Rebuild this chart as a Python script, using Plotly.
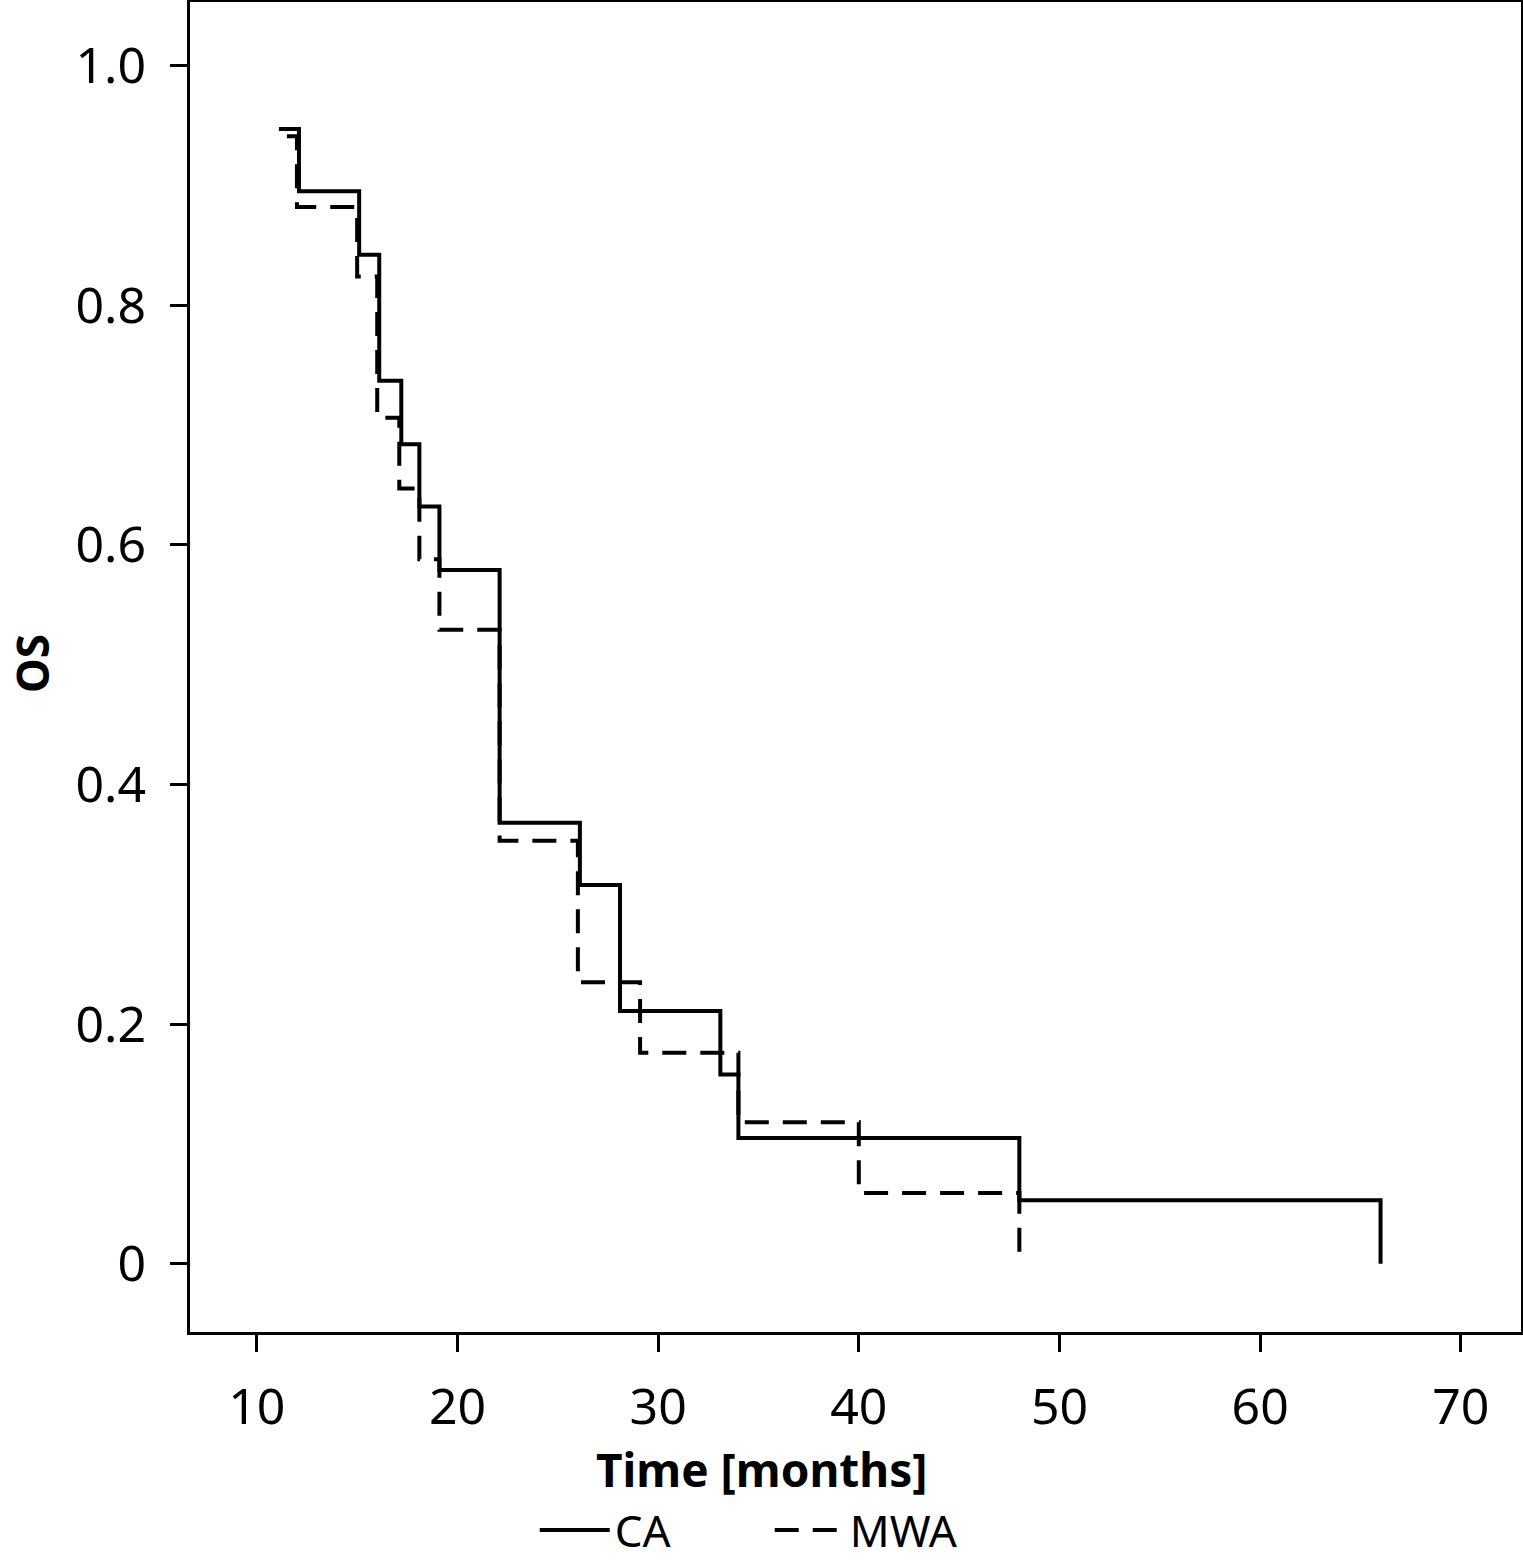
import plotly.graph_objects as go

# Data (Kaplan–Meier style step curves)
ca_time = [11.1, 12.1, 15.1, 16.1, 17.2, 18.1, 19.1, 22.1, 26.1, 28.1, 33.1, 34.0, 48.0, 66.0]
ca_os = [0.947, 0.895, 0.842, 0.737, 0.684, 0.632, 0.579, 0.368, 0.316, 0.211, 0.158, 0.105, 0.053, 0.0]

mwa_time = [11.5, 12.0, 15.0, 16.0, 17.1, 18.1, 19.1, 22.1, 26.0, 29.1, 34.0, 40.0, 48.0]
mwa_os = [0.941, 0.882, 0.824, 0.706, 0.647, 0.588, 0.529, 0.353, 0.235, 0.176, 0.118, 0.059, 0.0]

x_ticks = [10, 20, 30, 40, 50, 60, 70]
y_ticks = [0, 0.2, 0.4, 0.6, 0.8, 1.0]
y_tick_labels = ["0", "0.2", "0.4", "0.6", "0.8", "1.0"]

x_title = "Time [months]"
y_title = "OS"

FONT = "Noto Sans"

fig = go.Figure()
fig.add_trace(go.Scatter(
    x=ca_time, y=ca_os, mode="lines", name="CA",
    line=dict(shape="hv", color="black", width=4),
))
fig.add_trace(go.Scatter(
    x=mwa_time, y=mwa_os, mode="lines", name="MWA",
    line=dict(shape="hv", color="black", width=4, dash="24px,14px"),
))

fig.update_layout(
    template="none",
    width=1523, height=1561,
    margin=dict(l=190, r=2, t=2, b=229, pad=0, autoexpand=False),
    paper_bgcolor="white", plot_bgcolor="white",
    font=dict(family=FONT, size=48, color="black"),
    showlegend=True,
    legend=dict(
        orientation="h", x=0.259, xanchor="left", y=-(1495 - 1332) / 1330, yanchor="top",
        font=dict(family=FONT, size=44, color="black"),
        itemwidth=70, entrywidth=150, tracegroupgap=0, bgcolor="rgba(0,0,0,0)",
    ),
    annotations=[
        dict(
            text="<b>" + x_title + "</b>", xref="paper", yref="paper",
            x=(761.5 - 190) / 1331, y=-(1469 - 1332) / 1330,
            xanchor="center", yanchor="middle", showarrow=False,
            font=dict(family=FONT, size=46, color="black"),
        ),
        dict(
            text="<b>" + y_title + "</b>", xref="paper", yref="paper",
            x=(32 - 190) / 1331, y=(1332 - 664) / 1330, textangle=-90,
            xanchor="center", yanchor="middle", showarrow=False,
            font=dict(family=FONT, size=44, color="black"),
        ),
    ],
)
fig.update_xaxes(
    range=[6.67, 73.0], tickvals=x_ticks,
    showline=True, linecolor="black", linewidth=3, mirror=True,
    ticks="outside", ticklen=17, tickwidth=3, tickcolor="black",
    ticklabelstandoff=12,
    showgrid=False, zeroline=False, automargin=False,
    tickfont=dict(family=FONT, size=50),
)
fig.update_yaxes(
    range=[-0.057, 1.053], tickvals=y_ticks, ticktext=y_tick_labels,
    showline=True, linecolor="black", linewidth=3, mirror=True,
    ticks="outside", ticklen=17, tickwidth=3, tickcolor="black",
    ticklabelstandoff=14,
    showgrid=False, zeroline=False, automargin=False,
    tickfont=dict(family=FONT, size=50),
)

fig.write_html("out.html", config={"displayModeBar": False},
               post_script="document.body.style.margin='0';")
